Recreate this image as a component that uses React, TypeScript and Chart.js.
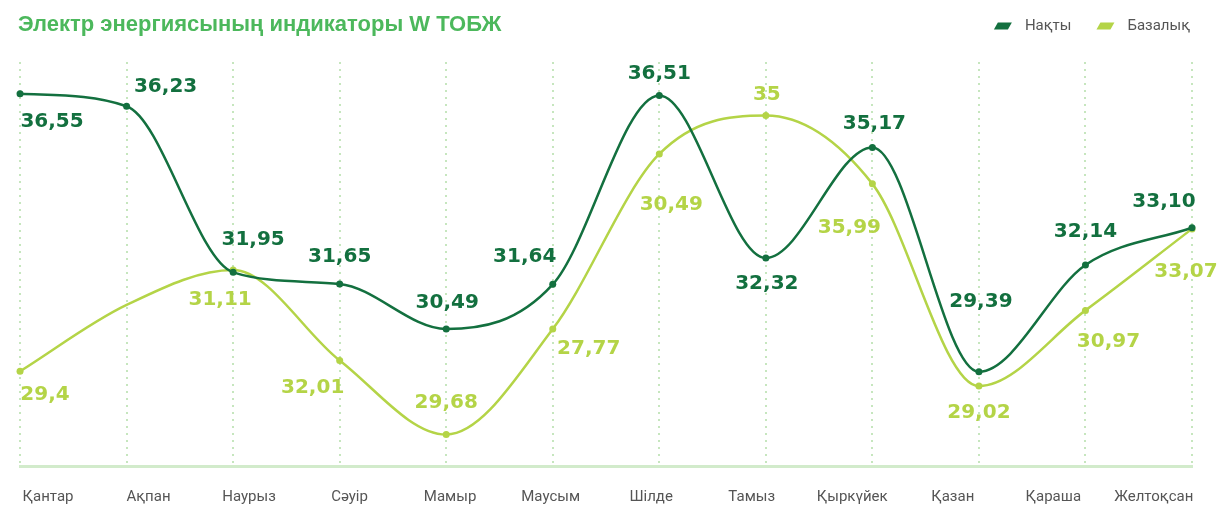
import React, { useEffect, useRef } from "react";
import { Chart, registerables } from "chart.js";

Chart.register(...registerables);

const months = ["Қантар", "Ақпан", "Наурыз", "Сәуір", "Мамыр", "Маусым", "Шілде", "Тамыз", "Қыркүйек", "Қазан", "Қараша", "Желтоқсан"];

const actualValues = [36.55, 36.23, 31.95, 31.65, 30.49, 31.64, 36.51, 32.32, 35.17, 29.39, 32.14, 33.1];
const actualLabels = ["36,55", "36,23", "31,95", "31,65", "30,49", "31,64", "36,51", "32,32", "35,17", "29,39", "32,14", "33,10"];

const baseValues = [29.4, 31.11, 32.01, 29.68, 27.77, 30.49, 35, 35.99, 34.23, 29.02, 30.97, 33.07];
const baseLabels = ["29,4", "", "31,11", "32,01", "29,68", "27,77", "30,49", "35", "35,99", "29,02", "30,97", "33,07"];

const seriesNames = ["Нақты", "Базалық"];
const titleText = "Электр энергиясының индикаторы W ТОБЖ";

// label placement relative to each point (dx, dy)
const actualLabelShift = [[32, 28], [39, -19], [20, -33], [0, -27], [1, -26], [-28, -28], [0, -22], [1, 26], [2, -24], [2, -70], [0, -33], [-28, -26]];
const baseLabelShift = [[25, 23], [0, 0], [-13, 30], [-27, 27], [0, -32], [36, 20], [12, 51], [1, -21], [-23, 44], [0, 27], [23, 31], [-6, 43]];

const DARK = "#13703f";
const LIGHT = "#b4d447";

const overlayPlugin = {
  id: "overlay",
  afterDatasetsDraw(chart: any) {
    const ctx = chart.ctx;
    const texts = [actualLabels, baseLabels];
    const shifts = [actualLabelShift, baseLabelShift];
    chart.data.datasets.forEach((ds: any, di: number) => {
      const meta = chart.getDatasetMeta(di);
      ctx.save();
      ctx.font = 'bold 20px "DejaVu Sans"';
      ctx.fillStyle = ds.borderColor;
      ctx.textAlign = "center";
      ctx.textBaseline = "middle";
      meta.data.forEach((pt: any, i: number) => {
        const t = texts[di][i];
        if (!t) return;
        ctx.fillText(t, pt.x + shifts[di][i][0], pt.y + shifts[di][i][1]);
      });
      ctx.restore();
    });
  },
  afterDraw(chart: any) {
    const ctx = chart.ctx;
    ctx.save();
    ctx.font = 'bold 22px "Liberation Sans"';
    ctx.fillStyle = "#4cb85c";
    ctx.textAlign = "left";
    ctx.textBaseline = "alphabetic";
    ctx.fillText(titleText, 18, 31);

    ctx.font = "15px Roboto";
    ctx.textBaseline = "middle";
    let right = 1190;
    const y = 26;
    const items = chart.data.datasets.map((d: any) => ({ label: d.label, color: d.borderColor }));
    for (let i = items.length - 1; i >= 0; i--) {
      const w = ctx.measureText(items[i].label).width;
      const tx = right - w;
      ctx.fillStyle = "#555";
      ctx.fillText(items[i].label, tx, y);
      const mx = tx - 13 - 18;
      ctx.fillStyle = items[i].color;
      ctx.beginPath();
      ctx.moveTo(mx + 4, y - 3.5);
      ctx.lineTo(mx + 18, y - 3.5);
      ctx.lineTo(mx + 14, y + 3.5);
      ctx.lineTo(mx, y + 3.5);
      ctx.closePath();
      ctx.fill();
      right = mx - 25;
    }
    ctx.restore();
  },
};

export default function App() {
  const canvasRef = useRef<HTMLCanvasElement | null>(null);

  useEffect(() => {
    if (!canvasRef.current) return;
    const chart = new Chart(canvasRef.current, {
      type: "line",
      data: {
        labels: months,
        datasets: [
          {
            label: seriesNames[0],
            data: actualValues,
            borderColor: DARK,
            backgroundColor: DARK,
            borderWidth: 2.5,
            pointRadius: 3.5,
            pointBackgroundColor: DARK,
            pointBorderWidth: 0,
            cubicInterpolationMode: "monotone",
            fill: false,
          },
          {
            label: seriesNames[1],
            data: baseValues,
            borderColor: LIGHT,
            backgroundColor: LIGHT,
            borderWidth: 2.5,
            pointRadius: (c: any) => (c.dataIndex === 1 ? 0 : 3.5),
            pointBackgroundColor: LIGHT,
            pointBorderWidth: 0,
            cubicInterpolationMode: "monotone",
            fill: false,
          },
        ],
      },
      options: {
        animation: false,
        responsive: true,
        maintainAspectRatio: false,
        events: [],
        layout: { padding: { top: 62, left: 20, right: 25, bottom: 0 } },
        plugins: {
          legend: { display: false },
          title: { display: false },
          tooltip: { enabled: false },
        },
        scales: {
          x: {
            type: "category",
            position: "bottom",
            offset: false,
            ticks: { display: false, padding: 0 },
            grid: { display: true, color: "#c6e6be", lineWidth: 2, drawTicks: false },
            border: { display: true, color: "#d2ebcb", width: 3, dash: [2, 5] },
            afterFit: (s: any) => {
              s.height = 0;
            },
          },
          x2: {
            type: "linear",
            position: "bottom",
            min: -0.2778,
            max: 11.38,
            afterBuildTicks: (scale: any) => {
              scale.ticks = months.map((_, i) => ({ value: i }));
            },
            afterFit: (s: any) => {
              s.height = 57;
            },
            ticks: {
              autoSkip: false,
              maxRotation: 0,
              padding: 22,
              color: "#555",
              font: { family: "Roboto", size: 15 },
              callback: (v: any) => months[v] ?? "",
            },
            grid: { display: false, drawTicks: false },
            border: { display: false },
          },
          y: {
            display: false,
            min: 26.96,
            max: 37.37,
          },
        },
      },
      plugins: [overlayPlugin],
    } as any);
    return () => chart.destroy();
  }, []);

  return (
    <div style={{ position: "fixed", left: 0, top: 0, width: "1217px", height: "523px", background: "#fff" }}>
      <canvas ref={canvasRef} />
    </div>
  );
}
